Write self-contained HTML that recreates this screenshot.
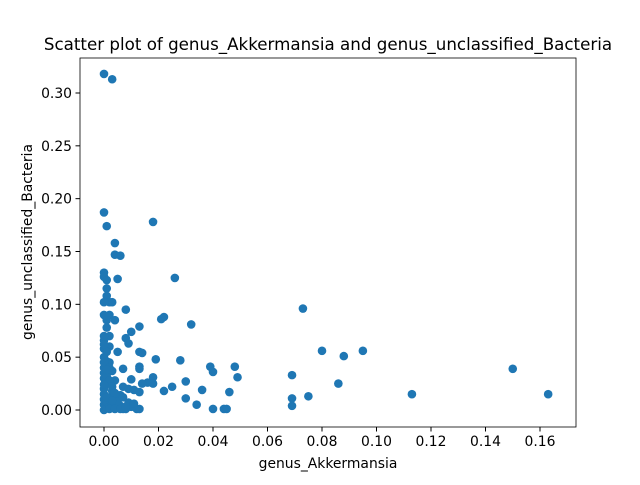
<!DOCTYPE html>
<html><head><meta charset="utf-8"><style>
body{margin:0;background:#fff;font-family:"Liberation Sans","DejaVu Sans",sans-serif}
svg text{font-family:"DejaVu Sans","Liberation Sans",sans-serif}
</style></head><body>
<svg id="chart" width="640" height="480" xmlns="http://www.w3.org/2000/svg">
<rect width="640" height="480" fill="#fff"/>
<text x="328" y="50" font-size="16.7" text-anchor="middle">Scatter plot of genus_Akkermansia and genus_unclassified_Bacteria</text>
<g id="points"></g>
<rect x="80" y="58" width="496" height="369" fill="none" stroke="#000" stroke-width="0.8"/>
<g id="xt"></g>
<g id="yt"></g>
<text x="328" y="468" font-size="13.9" text-anchor="middle">genus_Akkermansia</text>
<text transform="translate(32,242) rotate(-90)" font-size="13.9" text-anchor="middle">genus_unclassified_Bacteria</text>
</svg>
<script>
const xs=[0.000,0.003,0.000,0.001,0.018,0.004,0.004,0.006,0.000,0.000,0.001,0.005,0.026,0.001,0.001,0.002,0.003,0.000,0.008,0.073,0.000,0.002,0.004,0.001,0.022,0.021,0.032,0.013,0.001,0.010,0.008,0.002,0.000,0.009,0.002,0.000,0.005,0.013,0.014,0.080,0.095,0.088,0.019,0.028,0.000,0.001,0.002,0.039,0.048,0.013,0.013,0.007,0.150,0.040,0.000,0.003,0.069,0.049,0.018,0.010,0.030,0.016,0.014,0.086,0.000,0.004,0.007,0.018,0.025,0.022,0.036,0.046,0.009,0.011,0.013,0.113,0.163,0.075,0.069,0.030,0.034,0.069,0.040,0.044,0.045,0.012,0.013,0.007,0.000,0.000,0.000,0.000,0.000,0.001,0.001,0.001,0.002,0.002,0.003,0.003,0.004,0.005,0.006,0.006,0.008,0.009,0.010,0.000,0.001,0.002,0.003,0.004,0.005,0.007,0.000,0.001,0.002,0.000,0.001,0.000,0.002,0.004,0.006,0.008,0.011,0.000,0.001,0.003];
const ys=[0.318,0.313,0.187,0.174,0.178,0.158,0.147,0.146,0.130,0.126,0.123,0.124,0.125,0.115,0.108,0.102,0.102,0.102,0.095,0.096,0.090,0.090,0.085,0.085,0.088,0.086,0.081,0.079,0.078,0.074,0.068,0.070,0.066,0.063,0.060,0.058,0.055,0.055,0.054,0.056,0.056,0.051,0.048,0.047,0.050,0.046,0.045,0.041,0.041,0.041,0.039,0.039,0.039,0.036,0.040,0.037,0.033,0.031,0.031,0.029,0.027,0.026,0.025,0.025,0.030,0.028,0.022,0.025,0.022,0.018,0.019,0.017,0.020,0.019,0.017,0.015,0.015,0.013,0.011,0.011,0.005,0.004,0.001,0.001,0.001,0.001,0.001,0.001,0.000,0.005,0.010,0.015,0.020,0.002,0.008,0.025,0.003,0.012,0.006,0.018,0.002,0.010,0.004,0.014,0.001,0.007,0.003,0.035,0.032,0.028,0.022,0.016,0.008,0.012,0.045,0.055,0.040,0.062,0.038,0.070,0.001,0.001,0.001,0.003,0.006,0.024,0.012,0.009];
const xTicks=[0,0.02,0.04,0.06,0.08,0.10,0.12,0.14,0.16];
const xTickLabels=["0.00","0.02","0.04","0.06","0.08","0.10","0.12","0.14","0.16"];
const yTicks=[0,0.05,0.10,0.15,0.20,0.25,0.30];
const yTickLabels=["0.00","0.05","0.10","0.15","0.20","0.25","0.30"];
const NS="http://www.w3.org/2000/svg";
const X=v=>104+v*2725, Y=v=>410-v*1056.7;
const pg=document.getElementById('points');
xs.forEach((x,i)=>{const c=document.createElementNS(NS,'circle');


c.setAttribute('cx',X(x));c.setAttribute('cy',Y(ys[i]));c.setAttribute('r',4.3);c.setAttribute('fill','#1f77b4');pg.appendChild(c);});
const xt=document.getElementById('xt');
xTicks.forEach((t,i)=>{const l=document.createElementNS(NS,'line');


l.setAttribute('x1',X(t));l.setAttribute('x2',X(t));l.setAttribute('y1',427);l.setAttribute('y2',431.5);l.setAttribute('stroke','#000');xt.appendChild(l);
const s=document.createElementNS(NS,'text');


s.setAttribute('x',X(t));s.setAttribute('y',446);s.setAttribute('font-size','13.9');s.setAttribute('text-anchor','middle');s.textContent=xTickLabels[i];xt.appendChild(s);});
const yt=document.getElementById('yt');
yTicks.forEach((t,i)=>{const l=document.createElementNS(NS,'line');


l.setAttribute('x1',75.5);l.setAttribute('x2',80);l.setAttribute('y1',Y(t));l.setAttribute('y2',Y(t));l.setAttribute('stroke','#000');yt.appendChild(l);
const s=document.createElementNS(NS,'text');


s.setAttribute('x',72);s.setAttribute('y',Y(t)+5);s.setAttribute('font-size','13.9');s.setAttribute('text-anchor','end');s.textContent=yTickLabels[i];yt.appendChild(s);});
</script>
</body></html>
